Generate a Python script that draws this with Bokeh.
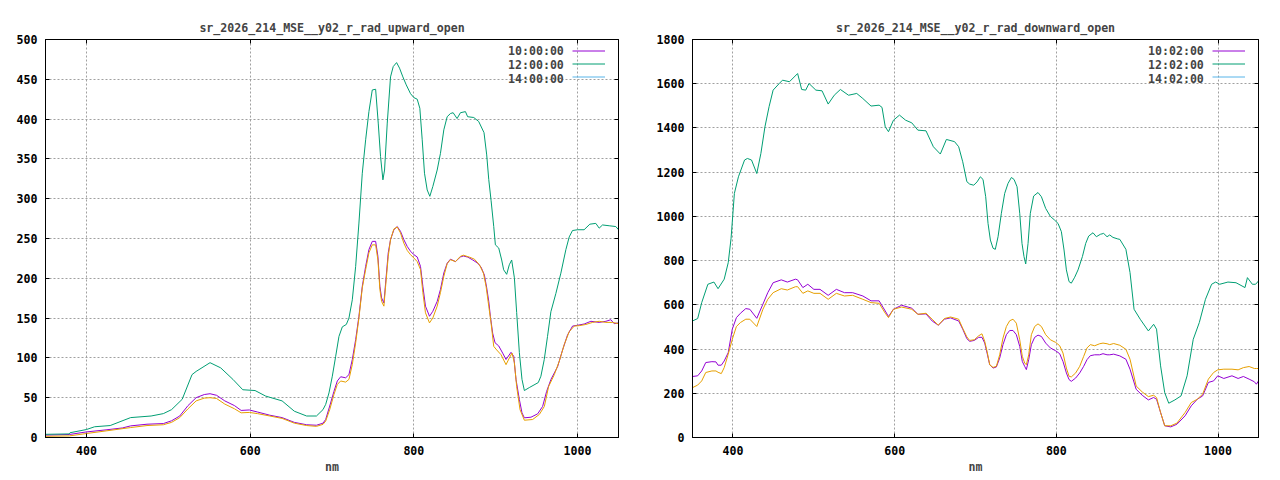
from bokeh.plotting import figure
from bokeh.layouts import row
from bokeh.models import Range1d, FixedTicker, LinearAxis, Legend, LegendItem
from bokeh.embed import file_html
from bokeh.resources import INLINE

# ---------------- data ----------------
up_title = "sr_2026_214_MSE__y02_r_rad_upward_open"
down_title = "sr_2026_214_MSE__y02_r_rad_downward_open"
up_labels = ["10:00:00", "12:00:00", "14:00:00"]
down_labels = ["10:02:00", "12:02:00", "14:02:00"]
x_ticks = [400, 600, 800, 1000]
up_y_ticks = [0, 50, 100, 150, 200, 250, 300, 350, 400, 450, 500]
down_y_ticks = [0, 200, 400, 600, 800, 1000, 1200, 1400, 1600, 1800]
# legend colours of the three titled series, and the colour the third curve is drawn in
colors = ["#9400d3", "#009e73", "#56b4e9", "#e69f00"]

up_10 = [(350, 3), (379, 3.75), (400, 7), (424, 9.6), (444, 12), (454, 14.6), (474, 16.7), (494, 17.5),
         (504, 21), (514, 27), (524, 40), (534, 50), (544, 54), (551, 55), (559, 53), (569, 46), (581, 40),
         (589, 34), (599, 34.6), (609, 32), (624, 28), (639, 25), (654, 19), (669, 16), (681, 15.4), (689, 18),
         (692.3, 22.7), (697.2, 39.5), (702.4, 58), (706.5, 71), (710.6, 76.3), (716.7, 75), (720.7, 79),
         (724.8, 98), (728.9, 123), (732.9, 152.3), (737, 190), (741.1, 215), (745.1, 236), (749.2, 246.4),
         (753.3, 246.4), (756.1, 227.6), (758.5, 190), (760.6, 175.3), (763.4, 169), (765.5, 194), (768.7, 232),
         (771.5, 248.5), (775.6, 261), (779.7, 265), (783.7, 259), (787.8, 248.5), (791.9, 240), (795.9, 234),
         (800, 229.7), (804.1, 226.8), (808.1, 215), (811, 190), (814.2, 165), (819.1, 152.3), (823.2, 158.6),
         (828.5, 171), (832.5, 186), (836.6, 206.7), (840.7, 219), (844.7, 224), (850.8, 221), (856.9, 226.8),
         (860.6, 228), (865.9, 226.6), (872, 223), (878, 219), (882.1, 214), (886.2, 204), (889, 188),
         (891.5, 171), (893.5, 152), (896.3, 131), (899.2, 119), (903.7, 115), (908.5, 106), (912.6, 98),
         (918.7, 107), (922, 102), (924.8, 73), (928.9, 47.7), (932.1, 31), (935, 24.7), (943.1, 25.5),
         (951.2, 29.7), (957.3, 39), (962.2, 58), (967.5, 73), (975.6, 89), (981.7, 110), (987.8, 129),
         (993.9, 140), (1000, 141), (1008.1, 142.6), (1016.3, 146), (1026.4, 144.6), (1034.6, 146),
         (1040.7, 148), (1044.7, 143), (1050, 144)]

up_12 = [(350, 4), (379, 4.5), (380, 6), (400, 10), (410, 13.5), (429, 15), (454, 25), (479, 27), (494, 30),
         (504, 35), (517, 48), (529, 79), (534, 83), (551, 94), (564, 87.5), (579, 73), (591, 60), (606, 59),
         (619, 52), (639, 46), (654, 33), (669, 27), (681, 27), (689, 35), (692.3, 41.6), (696.3, 56),
         (700.4, 77), (704.5, 102), (708.5, 127), (712.6, 139), (717.5, 142), (720.7, 150), (724.8, 173),
         (728.9, 215), (732.9, 269.4), (737, 332), (741.1, 374), (745.1, 409.4), (749.2, 436.6), (753.3, 437.5),
         (756.5, 395), (759.3, 353), (762.2, 323.7), (764.2, 336), (767.5, 395), (771.5, 453), (774.8, 466),
         (778.9, 471), (782.5, 464), (786.6, 453), (790.7, 443), (795.9, 432), (800, 427), (804.1, 425),
         (807.3, 413.6), (810.2, 374), (813, 332), (816.3, 311), (819.5, 303), (823.2, 315.4), (828.5, 336),
         (832.5, 357), (836.6, 386.5), (840.7, 403), (844.7, 407), (848, 408), (852.8, 400.7), (856.9, 408),
         (863, 409.4), (865.7, 403), (873.2, 402), (879.2, 397), (885.7, 383), (889, 355), (891.5, 324),
         (894.3, 298), (897.6, 265), (899.6, 242), (903.7, 238), (907.3, 223), (909.7, 210.7), (913.4, 205),
         (916.6, 217), (919.5, 223), (922.8, 200.6), (925.6, 157), (928.9, 106.6), (932.1, 73), (935, 59),
         (941, 62.7), (952, 69), (955.2, 77), (959.3, 98), (963.3, 127), (967.4, 158), (973.5, 181),
         (979.6, 206.5), (985.7, 236), (989.8, 252), (993.8, 260), (1000, 261), (1008, 261), (1015, 268),
         (1022.3, 269), (1026.4, 263), (1030.5, 267), (1038.6, 266), (1046.7, 265), (1050, 261)]

up_14 = [(350, 1.5), (379, 2), (400, 5), (424, 8.3), (454, 12.5), (474, 15), (494, 16), (504, 19), (514, 25),
         (524, 36), (534, 46), (544, 49.5), (551, 50), (559, 49), (569, 42), (581, 36), (589, 31), (599, 31.5),
         (609, 30), (624, 27), (639, 24), (654, 18), (669, 15), (681, 14), (689, 16.5), (692.3, 20.6),
         (697.2, 35), (702.4, 54), (706.5, 66.7), (710.6, 71), (716.7, 69.6), (720.7, 73), (724.8, 91.7),
         (728.9, 119), (732.9, 150), (737, 188), (741.1, 211), (745.1, 232), (749.2, 242), (753.3, 242),
         (756.1, 223), (758.5, 186), (760.6, 171), (763.4, 165), (765.5, 190), (768.7, 227.6), (771.5, 248.5),
         (775.6, 262), (779.7, 264.4), (783.7, 257), (787.8, 244), (791.9, 235), (795.9, 229.7), (800, 225.5),
         (804.1, 221), (808.1, 211), (811, 182), (814.2, 156.7), (819.1, 144), (823.2, 150.3), (828.5, 165),
         (832.5, 182), (836.6, 202.5), (840.7, 218.4), (844.7, 223.4), (850.8, 221), (856.9, 227.6),
         (860.6, 229), (867.9, 226.6), (874, 224), (880.1, 217), (885, 206.5), (888.2, 190), (891.5, 165),
         (894.3, 144), (897.6, 114.5), (901.2, 110), (906.5, 104), (912.6, 91.5), (916.7, 100), (919.9, 106),
         (922.8, 94), (925.6, 64), (929.7, 35), (935, 21.7), (945.1, 22.6), (953.3, 29), (959.4, 39),
         (964.6, 64), (971.6, 79), (977.7, 96), (983.8, 117), (989.8, 133), (996, 140), (1002, 140.5),
         (1010.2, 142), (1018.3, 144.6), (1026.4, 146), (1034.6, 144.6), (1042.7, 144.6), (1050, 143)]

down_10 = [(350.3, 276), (356.4, 279), (361.4, 301), (366.4, 339), (374, 343), (379, 342), (381.6, 327),
           (385.6, 327), (389.2, 346), (394.2, 384), (399.2, 490), (404.3, 542), (409.3, 562), (415.9, 583),
           (420.9, 580), (429.5, 539), (437.1, 603), (443.1, 655), (449.7, 700), (459.8, 713), (467.3, 703),
           (477.4, 716), (480, 713), (486.5, 678), (492.6, 693), (500.1, 670), (507.7, 670), (517.8, 643),
           (527.9, 670), (538, 655), (548.1, 655), (560.7, 640), (570.8, 618), (580.8, 618), (588.4, 572),
           (592.4, 547), (598.5, 580), (608.6, 598), (621.2, 585), (628.8, 557), (638.8, 559), (646.4, 527),
           (654, 508), (661.5, 535), (669.1, 541), (679.2, 527), (684.2, 490), (689.3, 447), (692.8, 435),
           (698.5, 439), (703.9, 453), (708, 453), (711.4, 427), (714.3, 382), (717.6, 329), (721.7, 314),
           (725.8, 319), (729.9, 359), (734, 420), (738.2, 465), (742.3, 484), (746.4, 484), (750.5, 465),
           (754.7, 412), (757.9, 344), (760.8, 322), (762.9, 307), (765.8, 352), (769.1, 420), (773.2, 453),
           (777.3, 463), (781.5, 457), (786.8, 427), (792.6, 405), (799.2, 392), (804.1, 379), (808.2, 344),
           (812.4, 292), (815.7, 262), (818.5, 254), (823.9, 269), (828.9, 292), (833.8, 322), (837.9, 352),
           (842, 370), (847.4, 374), (853.6, 374), (857.7, 379), (862.7, 374), (866, 374), (870.9, 377),
           (878.5, 369), (886, 354), (891.1, 309), (898.7, 218), (906.2, 191), (913.8, 170),
           (920.3, 181), (923.9, 173), (928.9, 113), (934, 53), (941.5, 48), (949.1, 60), (959.2, 98),
           (966.8, 143), (974.3, 173), (980.9, 188), (988, 249), (994.5, 256), (999.6, 279), (1007.1, 267),
           (1017.2, 279), (1024.8, 267), (1031.3, 276), (1038.4, 264), (1044.9, 252), (1047.4, 241), (1050, 256)]

down_12 = [(350, 527), (356.4, 538), (361.4, 610), (369, 693), (376.5, 703), (381.6, 673), (389.2, 716),
           (394.2, 791), (397.7, 901), (401.8, 1104), (406.8, 1179), (414.4, 1255), (417.9, 1262), (423, 1255),
           (429.5, 1194), (434.6, 1285), (439.6, 1405), (444.7, 1496), (449.7, 1571), (457.3, 1601),
           (461.3, 1616), (469.9, 1609), (480, 1646), (485, 1574), (490, 1571), (494.1, 1601), (502.6, 1571),
           (510.2, 1568), (517.8, 1508), (525.3, 1548), (532.9, 1574), (543, 1548), (553.1, 1556), (560.7, 1533),
           (570.8, 1499), (580.8, 1503), (584.4, 1493), (588.4, 1405), (592.4, 1383), (598.5, 1435), (606, 1458),
           (613.6, 1435), (621.2, 1423), (628.7, 1390), (638.8, 1387), (647.9, 1315), (656.5, 1282), (664, 1348),
           (674.1, 1338), (679.2, 1315), (684.2, 1247), (689.3, 1157), (692.8, 1146), (697.8, 1141),
           (701.9, 1156), (706, 1179), (709.3, 1167), (712.6, 1089), (715.5, 968), (718.4, 893), (721.7, 856),
           (724.5, 851), (727.9, 908), (732, 1014), (736.1, 1104), (740.2, 1149), (744.4, 1176), (747.7, 1167),
           (751.4, 1134), (754.7, 1014), (757.5, 878), (760, 818), (762.1, 785), (765, 878), (767.8, 1014),
           (771.9, 1092), (777.3, 1108), (781.5, 1089), (786.8, 1036), (792.6, 1000), (797.9, 983), (802.1, 968),
           (806.2, 931), (809.5, 848), (812.4, 758), (815.7, 705), (818.5, 698), (822.7, 725), (826.8, 758),
           (832.2, 818), (836.3, 878), (840, 911), (845.3, 926), (849.5, 908), (854.4, 919), (858.5, 923),
           (862.7, 908), (866, 916), (870, 905), (876, 898), (878.5, 896), (886, 851), (891.1, 746),
           (896.1, 580), (903.7, 535), (913.8, 482), (920.3, 512),
           (923.9, 490), (928.9, 324), (934, 203), (939, 155), (946.6, 170), (954.2, 188), (961.7, 279),
           (969.3, 444), (976.8, 520), (984.4, 625), (992, 693), (997, 703), (1002, 693), (1012.2, 703),
           (1022.2, 700), (1033.3, 678), (1036.3, 723), (1042.4, 693), (1046.4, 693), (1050, 708)]

down_14 = [(350.3, 226), (356.4, 237), (361.4, 256), (366.4, 294), (374, 301), (379, 301), (381.6, 295),
           (385.6, 289), (389.2, 316), (394.2, 377), (399.2, 444), (404.3, 502), (409.3, 520), (415.9, 535),
           (420.9, 535), (429.5, 502), (437.1, 580), (443.1, 625), (449.7, 655), (459.8, 673), (467.3, 667),
           (477.4, 682), (480, 682), (486.5, 652), (492.6, 663), (500.1, 652), (507.7, 652), (517.8, 625),
           (527.9, 652), (538, 640), (548.1, 643), (560.7, 625), (570.8, 610), (580.8, 607), (588.4, 562),
           (592.4, 542), (598.5, 580), (608.6, 590), (621.2, 580), (628.8, 557), (638.8, 562), (646.4, 535),
           (654, 508), (661.5, 538), (669.1, 545), (679.2, 535), (684.2, 494), (689.3, 455), (692.8, 439),
           (698.5, 442), (703.9, 460), (708, 469), (711.4, 435), (714.3, 389.5), (717.6, 329), (721.7, 317),
           (725.8, 322), (729.9, 374), (734, 450), (738.2, 502), (742.3, 528), (746.4, 535), (750.5, 517),
           (754.7, 442), (757.9, 367), (760.8, 337), (762.9, 329), (765.8, 374), (769.1, 465), (773.2, 502),
           (777.3, 514), (781.5, 502), (786.8, 465), (792.6, 442), (799.2, 430), (804.1, 415), (808.2, 382),
           (812.4, 314), (815.7, 277), (818.5, 274), (823.9, 292), (828.9, 322), (833.8, 367), (837.9, 405),
           (842, 420), (847.4, 415), (853.6, 424), (857.7, 427), (862.7, 424), (866, 420), (870.9, 425),
           (878.5, 417), (886, 399), (891.1, 354), (898.7, 233), (906.2, 206), (913.8, 185),
           (920.3, 191), (923.9, 181), (928.9, 113), (934, 53), (941.5, 53), (949.1, 65), (959.2, 113),
           (966.8, 158), (974.3, 173), (980.9, 196), (988, 264), (994.5, 294), (999.6, 306), (1007.1, 309),
           (1017.2, 309), (1024.8, 306), (1031.3, 316), (1038.4, 321), (1044.9, 312), (1047.4, 312), (1050, 312)]

# ---------------- styling ----------------
FONT = "DejaVu Sans Mono"
FS = "11.6px"


def style_axis(ax, ticks, labels=True):
    ax.ticker = FixedTicker(ticks=ticks)
    ax.axis_line_color = "black"
    ax.major_tick_line_color = "black"
    ax.major_tick_in = 4
    ax.major_tick_out = 0
    ax.minor_tick_line_color = None
    ax.major_label_text_font = FONT
    ax.major_label_text_font_style = "bold"
    ax.major_label_text_color = "black"
    ax.major_label_text_font_size = FS
    if not labels:
        ax.major_label_overrides = {t: "" for t in ticks}
        ax.major_label_standoff = 0


def key_legend(items, glyph_width, label_width):
    lg = Legend(items=items, location="top_right")
    lg.margin = 0
    lg.padding = 5
    lg.spacing = 0
    lg.label_height = 13
    lg.glyph_height = 13
    lg.glyph_width = glyph_width
    lg.label_standoff = 0
    lg.label_width = label_width
    lg.label_text_font = FONT
    lg.label_text_font_size = FS
    lg.label_text_font_style = "bold"
    lg.background_fill_alpha = 0
    lg.border_line_alpha = 0
    return lg


def make_plot(title, y_end, y_ticks, series, labels, bl, br):
    p = figure(width=640, height=476, output_backend="svg", toolbar_location=None,
               x_range=Range1d(350, 1050), y_range=Range1d(0, y_end),
               min_border_left=bl, min_border_right=br, min_border_top=39, min_border_bottom=38,
               title=title)
    p.title.text_font = FONT
    p.title.text_font_size = FS
    p.title.text_font_style = "bold"
    p.title.align = "center"
    p.title.standoff = 10
    p.outline_line_color = "black"
    p.outline_line_alpha = 1
    p.background_fill_color = "white"
    p.border_fill_color = "white"

    style_axis(p.xaxis[0], x_ticks)
    p.xaxis[0].major_label_standoff = 8
    p.xaxis[0].axis_label = "nm"
    p.xaxis[0].axis_label_standoff = 2
    p.xaxis[0].axis_label_text_font = FONT
    p.xaxis[0].axis_label_text_font_size = FS
    p.xaxis[0].axis_label_text_font_style = "bold"
    style_axis(p.yaxis[0], y_ticks)
    p.yaxis[0].major_label_standoff = 8

    top = LinearAxis()
    style_axis(top, x_ticks, labels=False)
    p.add_layout(top, "above")
    right = LinearAxis()
    style_axis(right, y_ticks, labels=False)
    p.add_layout(right, "right")

    for g in p.xgrid + p.ygrid:
        g.grid_line_color = "#a0a0a0"
        g.grid_line_dash = "2 2"
        g.grid_line_width = 1
    p.xgrid.ticker = FixedTicker(ticks=x_ticks)
    p.ygrid.ticker = FixedTicker(ticks=y_ticks)

    s10, s12, s14 = series
    r10 = p.line([a for a, b in s10], [b for a, b in s10], line_color=colors[0], line_width=1)
    r12 = p.line([a for a, b in s12], [b for a, b in s12], line_color=colors[1], line_width=1)
    # the third titled series shows only in the key (its one-point stroke draws nothing) ...
    r14 = p.line([s14[0][0]], [s14[0][1]], line_color=colors[2], line_width=1)
    # ... while its curve is drawn in orange, as in the reference
    p.line([a for a, b in s14], [b for a, b in s14], line_color=colors[3], line_width=1)

    rends = [r10, r12, r14]
    # gnuplot-style key: text first, line sample to its right
    text_key = key_legend([LegendItem(label=lab, renderers=[r]) for lab, r in zip(labels, rends)],
                          glyph_width=0, label_width=105)
    line_key = key_legend([LegendItem(label="", renderers=[r]) for r in rends],
                          glyph_width=33, label_width=8)
    p.add_layout(text_key, "center")
    p.add_layout(line_key, "center")
    return p


p1 = make_plot(up_title, 500, up_y_ticks, (up_10, up_12, up_14), up_labels, 45, 22)
p2 = make_plot(down_title, 1800, down_y_ticks, (down_10, down_12, down_14), down_labels, 52, 22)

layout = row(p1, p2)
open("out.html", "w").write(file_html(layout, INLINE))
